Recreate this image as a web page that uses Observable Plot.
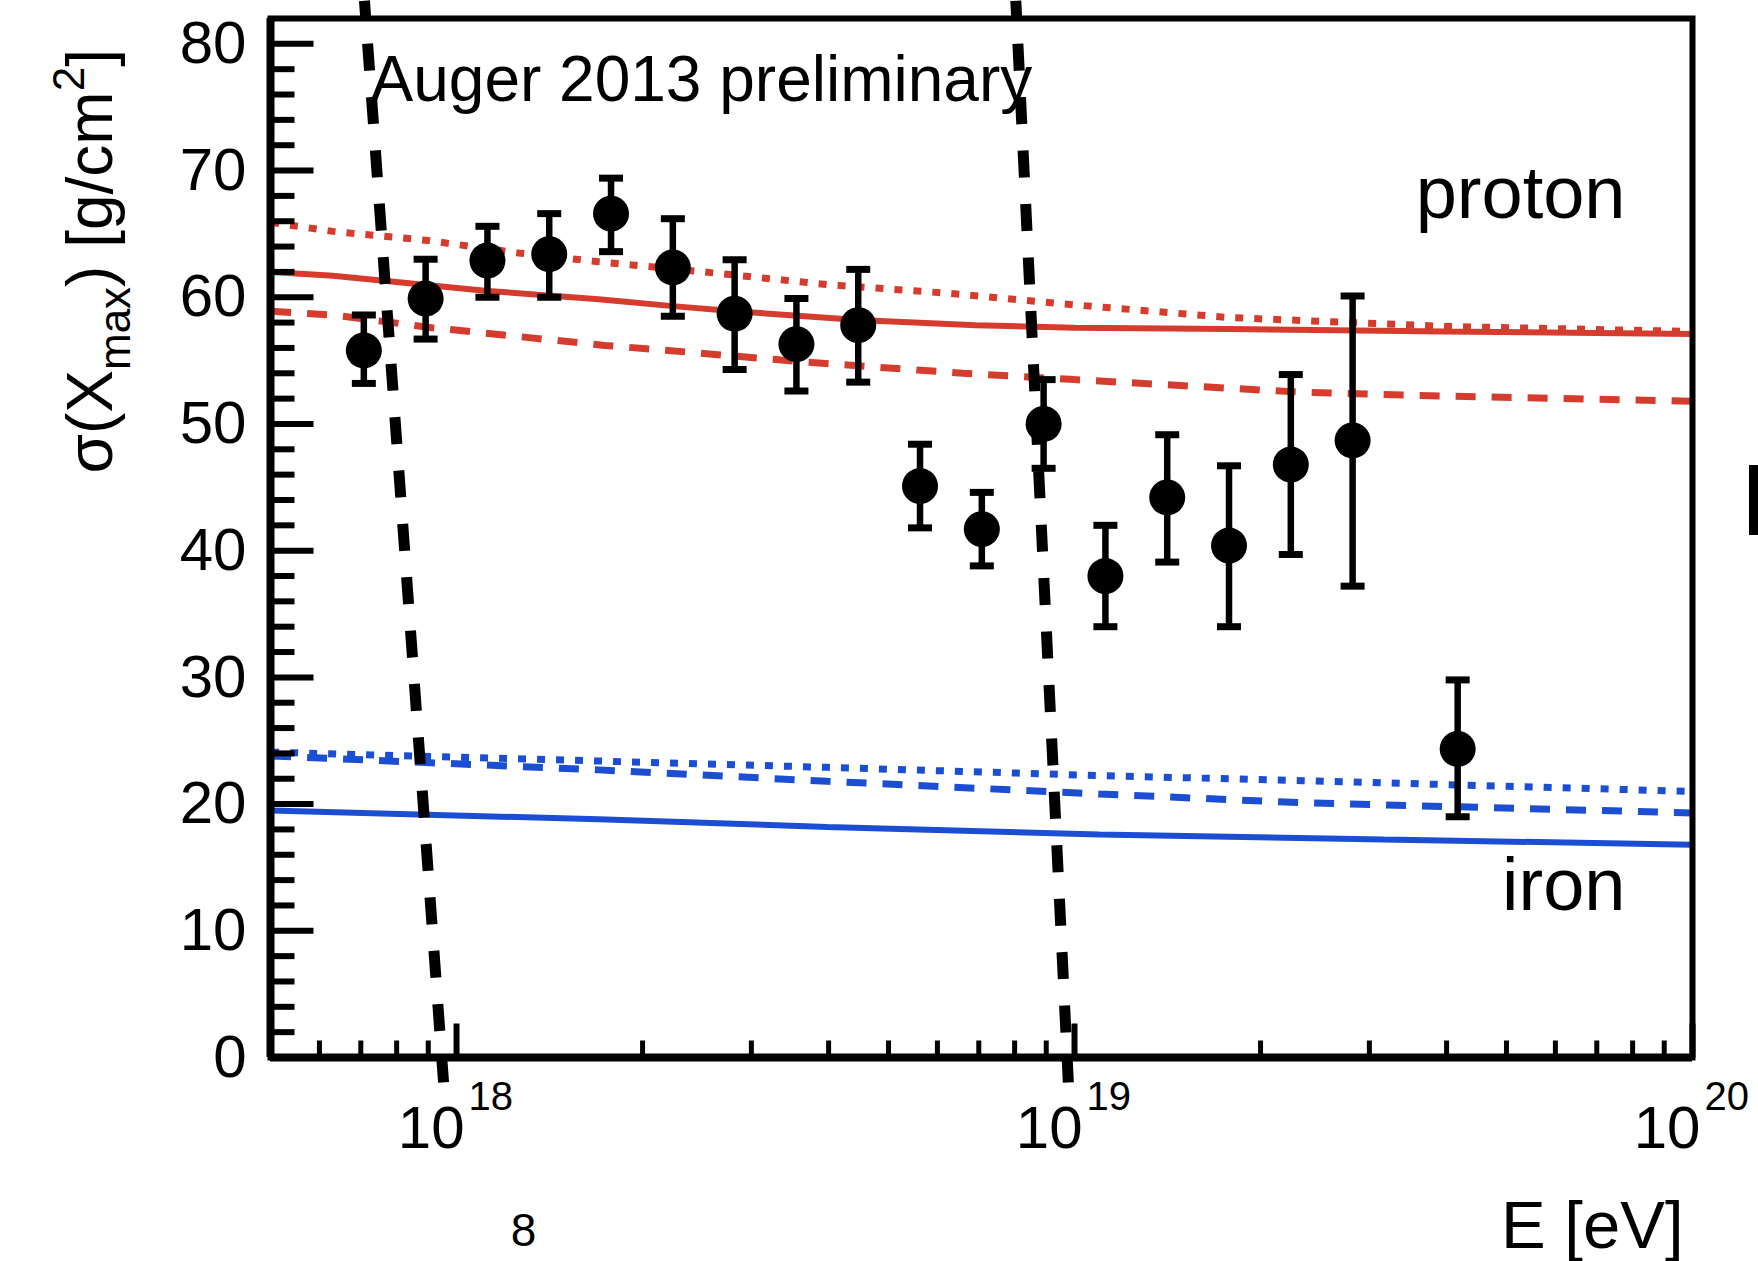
<!DOCTYPE html>
<html>
<head>
<meta charset="utf-8">
<script src="https://cdn.jsdelivr.net/npm/d3@7"></script>
<script src="https://cdn.jsdelivr.net/npm/@observablehq/plot@0.6"></script>
<style>
  body { margin: 0; background: #fff; }
  #wrap { position: relative; width: 1758px; height: 1261px; overflow: hidden; background: #fff; }
  #edge { position: absolute; left: 1749px; top: 465px; width: 9px; height: 70px; background: #000; }
</style>
</head>
<body>
<div id="wrap"><div id="edge"></div></div>
<script>
// ---------- data ----------
const binLgE    = [17.85, 17.95, 18.05, 18.15, 18.25, 18.35, 18.45, 18.55, 18.65, 18.75, 18.85, 18.95, 19.05, 19.15, 19.25, 19.35, 19.45, 19.62];
const sigmaXmax = [55.8, 59.9, 62.9, 63.4, 66.6, 62.35, 58.7, 56.3, 57.8, 45.1, 41.7, 50.0, 38.0, 44.2, 40.4, 46.8, 48.7, 24.35];
const errHigh   = [58.6, 63.0, 65.6, 66.6, 69.4, 66.2, 62.96, 59.9, 62.2, 48.4, 44.6, 53.5, 42.0, 49.15, 46.7, 53.9, 60.1, 29.8];
const errLow    = [53.2, 56.7, 60.0, 60.0, 63.6, 58.5, 54.3, 52.6, 53.3, 41.8, 38.8, 46.5, 34.0, 39.1, 34.0, 39.7, 37.2, 19.0];

// proton model curves
const pSolidLg  = [17.7, 17.8, 18.05, 18.23, 18.35, 18.45, 18.65, 18.84, 19.0, 19.25, 19.6, 20.0];
const pSolidVal = [62.0, 61.7, 60.5, 59.85, 59.3, 58.9, 58.2, 57.8, 57.6, 57.5, 57.3, 57.1];
const pDotLg    = [17.7, 17.8, 17.95, 18.1, 18.23, 18.4, 18.6, 18.8, 19.0, 19.25, 19.6, 20.0];
const pDotVal   = [65.9, 65.2, 64.5, 63.5, 62.8, 62.0, 61.0, 60.3, 59.4, 58.4, 57.7, 57.3];
const pDashLg   = [17.7, 17.8, 17.96, 18.08, 18.24, 18.38, 18.56, 18.82, 19.0, 19.37, 19.6, 20.0];
const pDashVal  = [58.9, 58.6, 57.6, 57.0, 56.2, 55.65, 54.9, 54.0, 53.5, 52.5, 52.2, 51.8];
// iron model curves
const feDotLg    = [17.7, 18.23, 18.6, 19.04, 19.37, 20.0];
const feDotVal   = [24.1, 23.4, 22.9, 22.25, 21.85, 21.0];
const feDashLg   = [17.7, 18.23, 18.6, 19.04, 19.37, 20.0];
const feDashVal  = [23.8, 22.7, 21.8, 20.8, 20.1, 19.3];
const feSolidLg  = [17.7, 18.23, 18.6, 19.04, 19.5, 20.0];
const feSolidVal = [19.5, 18.8, 18.2, 17.6, 17.2, 16.8];

// thick black dashed guide lines (annotation), endpoints in data units
const guideId    = ["left", "left", "right", "right"];
const guideLgE   = [17.851, 17.979, 18.905, 18.990];
const guideSigma = [83.4, -1.97, 83.4, -1.97];

// axes
const yMajorTicks = [0, 10, 20, 30, 40, 50, 60, 70, 80];
const yMinorTicks = [2, 4, 6, 8, 12, 14, 16, 18, 22, 24, 26, 28, 32, 34, 36, 38, 42, 44, 46, 48, 52, 54, 56, 58, 62, 64, 66, 68, 72, 74, 76, 78];
const xMajorTicks = [1e18, 1e19, 1e20];
const xTickBase = ["10", "10", "10"];
const xTickExponents = ["18", "19", "20"];
const xMinorTicks = [6e17, 7e17, 8e17, 9e17, 2e18, 3e18, 4e18, 5e18, 6e18, 7e18, 8e18, 9e18, 2e19, 3e19, 4e19, 5e19, 6e19, 7e19, 8e19, 9e19];

const titleText = "Auger 2013 preliminary";
const protonText = "proton";
const ironText = "iron";
const xLabel = "E [eV]";
const yLabel = "σ(Xmax) [g/cm2]";
const pageMark = "8";

// ---------- build tables ----------
const points = binLgE.map((lg, i) => ({E: 10 ** lg, s: sigmaXmax[i], lo: errLow[i], hi: errHigh[i]}));
const curve = (lgs, vals) => lgs.map((lg, i) => ({E: 10 ** lg, s: vals[i]}));
const guides = guideLgE.map((lg, i) => ({E: 10 ** lg, s: guideSigma[i], id: guideId[i]}));

// custom symbols
const capSymbol = {draw(ctx, size) { const r = Math.sqrt(size / Math.PI); ctx.moveTo(-r, 0); ctx.lineTo(r, 0); }};
const tickRight = {draw(ctx, size) { const r = Math.sqrt(size / Math.PI); ctx.moveTo(0, 0); ctx.lineTo(r, 0); }};
const tickUp    = {draw(ctx, size) { const r = Math.sqrt(size / Math.PI); ctx.moveTo(0, 0); ctx.lineTo(0, -r); }};

const RED = "#d63c2e", BLUE = "#1c4ed3";
const FONT = "'Liberation Sans', Arial, Helvetica, sans-serif";
const lineOpts = {x: "E", y: "s", strokeLinecap: "butt", strokeLinejoin: "miter"};

const chart = Plot.plot({
  width: 1758, height: 1261,
  marginLeft: 270, marginRight: 66, marginTop: 18, marginBottom: 204,
  x: {type: "log", domain: [5e17, 1e20], axis: null},
  y: {domain: [0, 82], axis: null},
  style: {fontFamily: FONT, background: "white", color: "black"},
  marks: [
    // model curves
    Plot.line(curve(pSolidLg, pSolidVal), {...lineOpts, stroke: RED, strokeWidth: 6}),
    Plot.line(curve(pDashLg, pDashVal), {...lineOpts, stroke: RED, strokeWidth: 7, strokeDasharray: "20,16"}),
    Plot.line(curve(pDotLg, pDotVal), {...lineOpts, stroke: RED, strokeWidth: 7, strokeDasharray: "8,11"}),
    Plot.line(curve(feSolidLg, feSolidVal), {...lineOpts, stroke: BLUE, strokeWidth: 6}),
    Plot.line(curve(feDashLg, feDashVal), {...lineOpts, stroke: BLUE, strokeWidth: 7, strokeDasharray: "20,16"}),
    Plot.line(curve(feDotLg, feDotVal), {...lineOpts, stroke: BLUE, strokeWidth: 7, strokeDasharray: "8,11"}),
    // guide lines
    Plot.line(guides, {...lineOpts, z: "id", stroke: "black", strokeWidth: 11, strokeDasharray: "27,26.5", strokeDashoffset: 10.5}),
    // data with error bars
    Plot.ruleX(points, {x: "E", y1: "lo", y2: "hi", stroke: "black", strokeWidth: 6.5}),
    Plot.dot(points, {x: "E", y: "hi", symbol: capSymbol, r: 12, stroke: "black", strokeWidth: 7, fill: "none"}),
    Plot.dot(points, {x: "E", y: "lo", symbol: capSymbol, r: 12, stroke: "black", strokeWidth: 7, fill: "none"}),
    Plot.dot(points, {x: "E", y: "s", r: 18, fill: "black", stroke: "none"}),
    // frame & axes
    Plot.frame({stroke: "black", strokeWidth: 6}),
    Plot.ruleX([5e17], {stroke: "black", strokeWidth: 8}),
    Plot.ruleY([0], {stroke: "black", strokeWidth: 8}),
    Plot.dot(yMajorTicks, {y: d => d, frameAnchor: "left", symbol: tickRight, r: 43, stroke: "black", strokeWidth: 6, fill: "none"}),
    Plot.dot(yMinorTicks, {y: d => d, frameAnchor: "left", symbol: tickRight, r: 24, stroke: "black", strokeWidth: 6, fill: "none"}),
    Plot.dot(xMajorTicks, {x: d => d, frameAnchor: "bottom", symbol: tickUp, r: 34, stroke: "black", strokeWidth: 6, fill: "none"}),
    Plot.dot(xMinorTicks, {x: d => d, frameAnchor: "bottom", symbol: tickUp, r: 17, stroke: "black", strokeWidth: 5, fill: "none"}),
    // tick labels
    Plot.text(yMajorTicks, {y: d => d, text: d => String(d), frameAnchor: "left", dx: -24, textAnchor: "end", lineAnchor: "middle", fontSize: 60, fill: "black"}),
    Plot.text(xMajorTicks, {x: d => d, text: (d, i) => xTickBase[i], frameAnchor: "bottom", dx: 8, dy: 90, textAnchor: "end", lineAnchor: "bottom", fontSize: 60, fill: "black"}),
    Plot.text(xMajorTicks, {x: d => d, text: (d, i) => xTickExponents[i], frameAnchor: "bottom", dx: 12, dy: 52, textAnchor: "start", lineAnchor: "bottom", fontSize: 40, fill: "black"}),
    // labels
    Plot.text([titleText], {text: d => d, frameAnchor: "top-left", dx: 100, dy: 82, textAnchor: "start", lineAnchor: "bottom", fontSize: 64, fill: "black"}),
    Plot.text([protonText], {text: d => d, frameAnchor: "top-right", dx: -67, dy: 199, textAnchor: "end", lineAnchor: "bottom", fontSize: 74, fill: "black"}),
    Plot.text([ironText], {text: d => d, frameAnchor: "bottom-right", dx: -67, dy: -148, textAnchor: "end", lineAnchor: "bottom", fontSize: 74, fill: "black"}),
    Plot.text([xLabel], {text: d => d, frameAnchor: "bottom-right", dx: -9, dy: 190, textAnchor: "end", lineAnchor: "bottom", fontSize: 67, fill: "black"}),
    Plot.text([yLabel], {text: d => d, frameAnchor: "bottom-left", dx: -159, dy: -584, rotate: -90, textAnchor: "start", lineAnchor: "bottom", fontSize: 64, fill: "black"}),
    Plot.text([pageMark], {text: d => d, frameAnchor: "bottom-left", dx: 253, dy: 188, textAnchor: "middle", lineAnchor: "bottom", fontSize: 46, fill: "black"})
  ]
});

// rich text for the y label (subscript / superscript)
const NS = "http://www.w3.org/2000/svg";
const yl = [...chart.querySelectorAll("text")].find(e => e.textContent === yLabel);
if (yl) {
  yl.textContent = "";
  const parts = [["σ(X", 0, null], ["max", 18, 44], [") [g/cm", -18, null], ["2", -28, 44], ["]", 28, null]];
  for (const [s, dy, fs] of parts) {
    const ts = document.createElementNS(NS, "tspan");
    ts.textContent = s;
    if (dy) ts.setAttribute("dy", dy);
    if (fs) ts.setAttribute("font-size", fs);
    yl.appendChild(ts);
  }
}
chart.style.position = "absolute";
chart.style.left = "0";
chart.style.top = "0";
document.getElementById("wrap").prepend(chart);
</script>
</body>
</html>
